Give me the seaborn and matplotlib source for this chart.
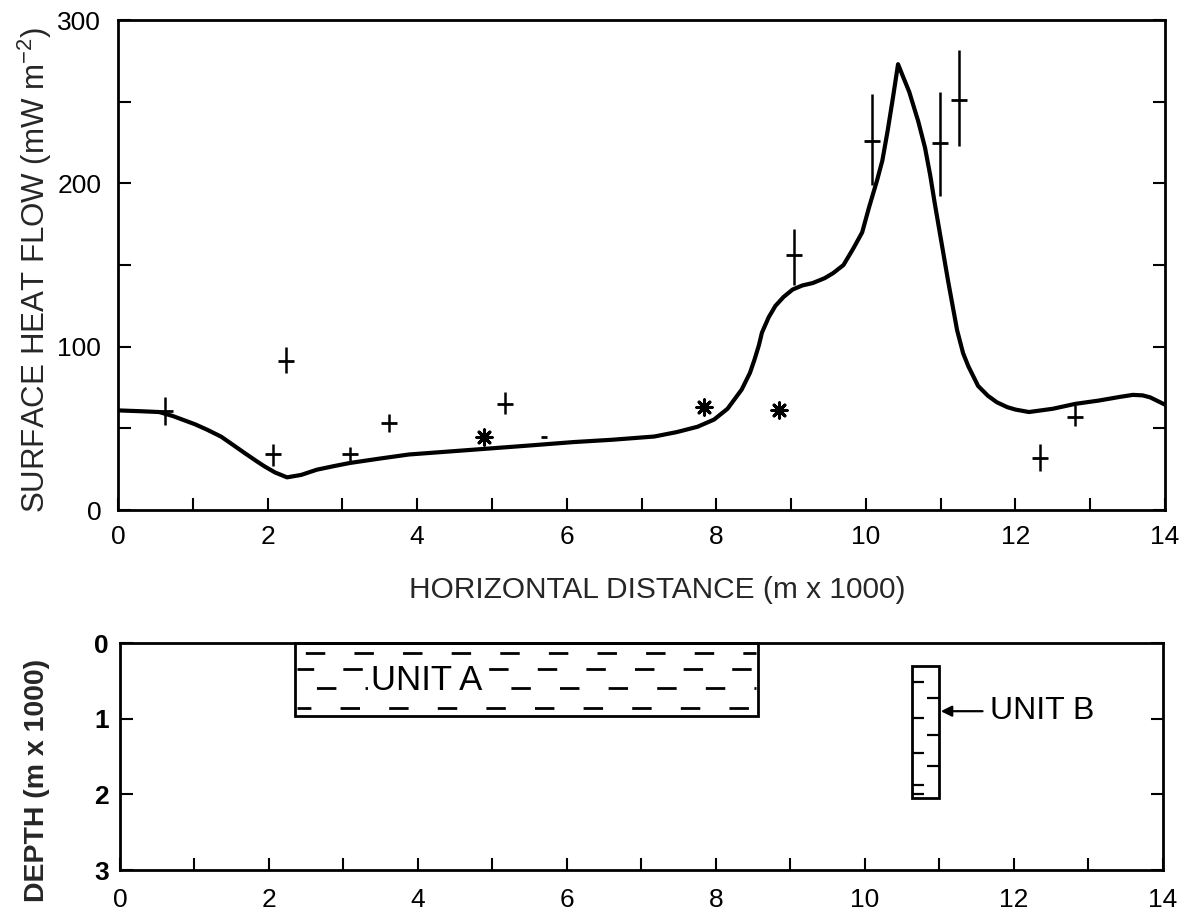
import matplotlib
matplotlib.use("Agg")
import matplotlib.pyplot as plt
import numpy as np
import pandas as pd
import seaborn as sns
from matplotlib.patches import Rectangle
from matplotlib.ticker import MultipleLocator, FixedLocator, FuncFormatter

# ---- modelled surface heat flow along the profile (km, mW m^-2) ----
model_x = [0.0, 0.3, 0.55, 0.73, 1.03, 1.2, 1.38, 1.55, 1.69, 1.85, 1.96, 2.1,
           2.26, 2.45, 2.66, 2.9, 3.1, 3.5, 3.89, 4.77, 5.5, 6.09, 6.6, 7.17,
           7.47, 7.75, 7.97, 8.15, 8.34, 8.45, 8.51, 8.57, 8.61, 8.7, 8.79,
           8.9, 9.02, 9.15, 9.29, 9.45, 9.56, 9.7, 9.83, 9.95, 10.04, 10.15,
           10.22, 10.29, 10.36, 10.43, 10.5, 10.58, 10.7, 10.79, 10.86, 10.92,
           11.01, 11.1, 11.22, 11.3, 11.37, 11.5, 11.63, 11.75, 11.89, 12.0,
           12.18, 12.5, 12.8, 13.11, 13.4, 13.57, 13.7, 13.8, 14.0]
model_q = [61, 60.5, 60, 57.6, 52.5, 49, 44.9, 39.5, 35, 30, 26.7, 23,
           20, 21.5, 24.7, 27, 28.8, 31.5, 34, 37, 39.5, 41.6, 43, 45,
           47.7, 51, 55.4, 62, 73.8, 84, 92, 101, 108.6, 118, 125,
           130.5, 135, 137.5, 139, 142, 145, 150, 160, 170, 185, 202,
           214, 232, 252, 273, 265, 256, 238, 222, 205, 188,
           164, 140, 110, 96, 88, 76, 70, 66, 63, 61.5,
           60, 62, 65, 67, 69.3, 70.5, 70.2, 69, 64.5]

# ---- measured heat flow with uncertainty ranges ----
obs_x = [0.63, 2.07, 2.25, 3.10, 3.62, 5.17, 9.04, 10.08, 10.99, 11.25, 12.33, 12.80]
obs_q = [60.5, 34, 91, 34, 53, 65, 156, 226, 225, 251, 32, 57]
obs_lo = [52, 27, 84, 29.5, 48, 59, 138, 199, 192, 223, 24, 51.5]
obs_hi = [69, 40.5, 100, 38.5, 58.5, 72, 172, 255, 256, 282, 40.5, 64]

# ---- estimated values (no uncertainty) ----
est_x = [4.90, 7.83, 8.84]
est_q = [45, 63, 61]

# ---- single reading shown as a short bar ----
bar_x = [5.69]
bar_q = [45]

# ---- subsurface units (km) ----
unit_a_x = [2.35, 8.57]
unit_a_depth = [0.0, 0.97]
unit_b_x = [10.63, 11.0]
unit_b_depth = [0.3, 2.05]

xticks_top = list(range(0, 15))
ylabels_top = [0, 100, 200, 300]
ylabels_bot = [0, 1, 2, 3]

sns.set_theme(style="ticks")
plt.rcParams["font.family"] = ["Liberation Sans", "DejaVu Sans"]
plt.rcParams["mathtext.default"] = "regular"
plt.rcParams["lines.scale_dashes"] = False

fig = plt.figure(figsize=(11.81, 9.14), dpi=100)
ax1 = fig.add_axes([0.0999, 0.442, 0.8866, 0.536])
ax2 = fig.add_axes([0.1016, 0.048, 0.883, 0.2484])

spine_w = 2.0
tick_len = 9
for ax in (ax1, ax2):
    for s in ax.spines.values():
        s.set_linewidth(spine_w)
        s.set_color("black")
        s.set_visible(True)

even_only = FuncFormatter(
    lambda v, p: f"{int(round(v))}" if int(round(v)) % 2 == 0 else "")

# ---------------- heat flow profile ----------------
curve = pd.DataFrame({"x": model_x, "q": model_q})
sns.lineplot(data=curve, x="x", y="q", ax=ax1, color="black", linewidth=3.0,
             estimator=None, sort=False)

q = np.array(obs_q)
yerr = [q - np.array(obs_lo), np.array(obs_hi) - q]
ax1.errorbar(obs_x, obs_q, yerr=yerr, fmt="_", ms=11, mew=2.0, color="black",
             ecolor="black", elinewidth=1.8, capsize=0, zorder=4)

sns.scatterplot(x=est_x, y=est_q, ax=ax1, marker=(8, 2, 0), s=120,
                color="black", edgecolor="black", linewidth=2.2, zorder=5)
ax1.plot(bar_x, bar_q, linestyle="none", marker="_", ms=5, mew=2,
         color="black")

ax1.set_xlim(0, 14)
ax1.set_ylim(0, 300)
ax1.xaxis.set_major_locator(FixedLocator(xticks_top))
ax1.xaxis.set_major_formatter(even_only)
ax1.yaxis.set_major_locator(FixedLocator(ylabels_top))
ax1.yaxis.set_minor_locator(MultipleLocator(50))
ax1.tick_params(axis="x", which="both", direction="in", length=tick_len,
                width=1.5, top=False, bottom=True, labelsize=19, pad=11,
                colors="black")
ax1.tick_params(axis="y", which="both", direction="in", length=tick_len,
                width=1.5, left=True, right=True, labelsize=19, pad=12,
                colors="black")
ax1.set_xlabel("HORIZONTAL DISTANCE (m x 1000)", fontsize=21.5, va="center")
ax1.xaxis.set_label_coords(0.515, -0.163)
ax1.set_ylabel("SURFACE HEAT FLOW (mW m$^{-2}$)", fontsize=22.5, va="center")
ax1.yaxis.set_label_coords(-0.079, 0.49)

# ---------------- cross-section ----------------
ax2.set_xlim(0, 14)
ax2.set_ylim(3, 0)

ua_w = unit_a_x[1] - unit_a_x[0]
ua_h = unit_a_depth[1] - unit_a_depth[0]
ax2.add_patch(Rectangle((unit_a_x[0], unit_a_depth[0]), ua_w, ua_h,
                        fill=False, edgecolor="black", linewidth=2.0,
                        clip_on=False, zorder=3))
# dashed shale-style fill of unit A
row_depths = [0.13, 0.34, 0.6, 0.86]
row_offsets = [-6, 2, -14, 4]
x0 = unit_a_x[0] + 0.03
x1 = unit_a_x[1] - 0.03
for d, off in zip(row_depths, row_offsets):
    ax2.plot([x0, x1], [d, d], color="black", linewidth=2.0,
             linestyle=(off, (14, 21)), solid_capstyle="butt",
             dash_capstyle="butt", zorder=2)
ax2.text(4.12, 0.5, "UNIT A", fontsize=25, ha="center", va="center",
         color="black", zorder=4,
         bbox=dict(boxstyle="square,pad=0.1", facecolor="white",
                   edgecolor="none"))

ub_w = unit_b_x[1] - unit_b_x[0]
ub_h = unit_b_depth[1] - unit_b_depth[0]
ax2.add_patch(Rectangle((unit_b_x[0], unit_b_depth[0]), ub_w, ub_h,
                        fill=False, edgecolor="black", linewidth=2.0, zorder=3))
# short alternating marks inside unit B
left_marks = [0.52, 0.99, 1.45, 1.88, 2.0]
right_marks = [0.73, 1.21, 1.63]
ax2.hlines(left_marks, unit_b_x[0], unit_b_x[0] + 0.16, color="black",
           linewidth=1.6)
ax2.hlines(right_marks, unit_b_x[1] - 0.16, unit_b_x[1], color="black",
           linewidth=1.6)
ax2.annotate("UNIT B", xy=(unit_b_x[1] + 0.02, 0.9), xytext=(11.68, 0.9),
             fontsize=23, ha="left", va="center", color="black",
             arrowprops=dict(arrowstyle="-|>", color="black", lw=1.6,
                             mutation_scale=16, shrinkA=3, shrinkB=0))

ax2.xaxis.set_major_locator(FixedLocator(xticks_top))
ax2.xaxis.set_major_formatter(even_only)
ax2.yaxis.set_major_locator(FixedLocator(ylabels_bot))
ax2.tick_params(axis="x", direction="in", length=tick_len, width=1.5,
                top=False, bottom=True, labelsize=19, pad=13, colors="black")
ax2.tick_params(axis="y", direction="in", length=tick_len, width=1.5,
                left=True, right=True, labelsize=19, pad=8, colors="black")
for lab in ax2.get_yticklabels():
    lab.set_fontweight("bold")
ax2.set_ylabel("DEPTH (m x 1000)", fontsize=20.5, fontweight="bold", va="center")
ax2.yaxis.set_label_coords(-0.080, 0.396)

fig.savefig("out.png", dpi=100, facecolor="white")
